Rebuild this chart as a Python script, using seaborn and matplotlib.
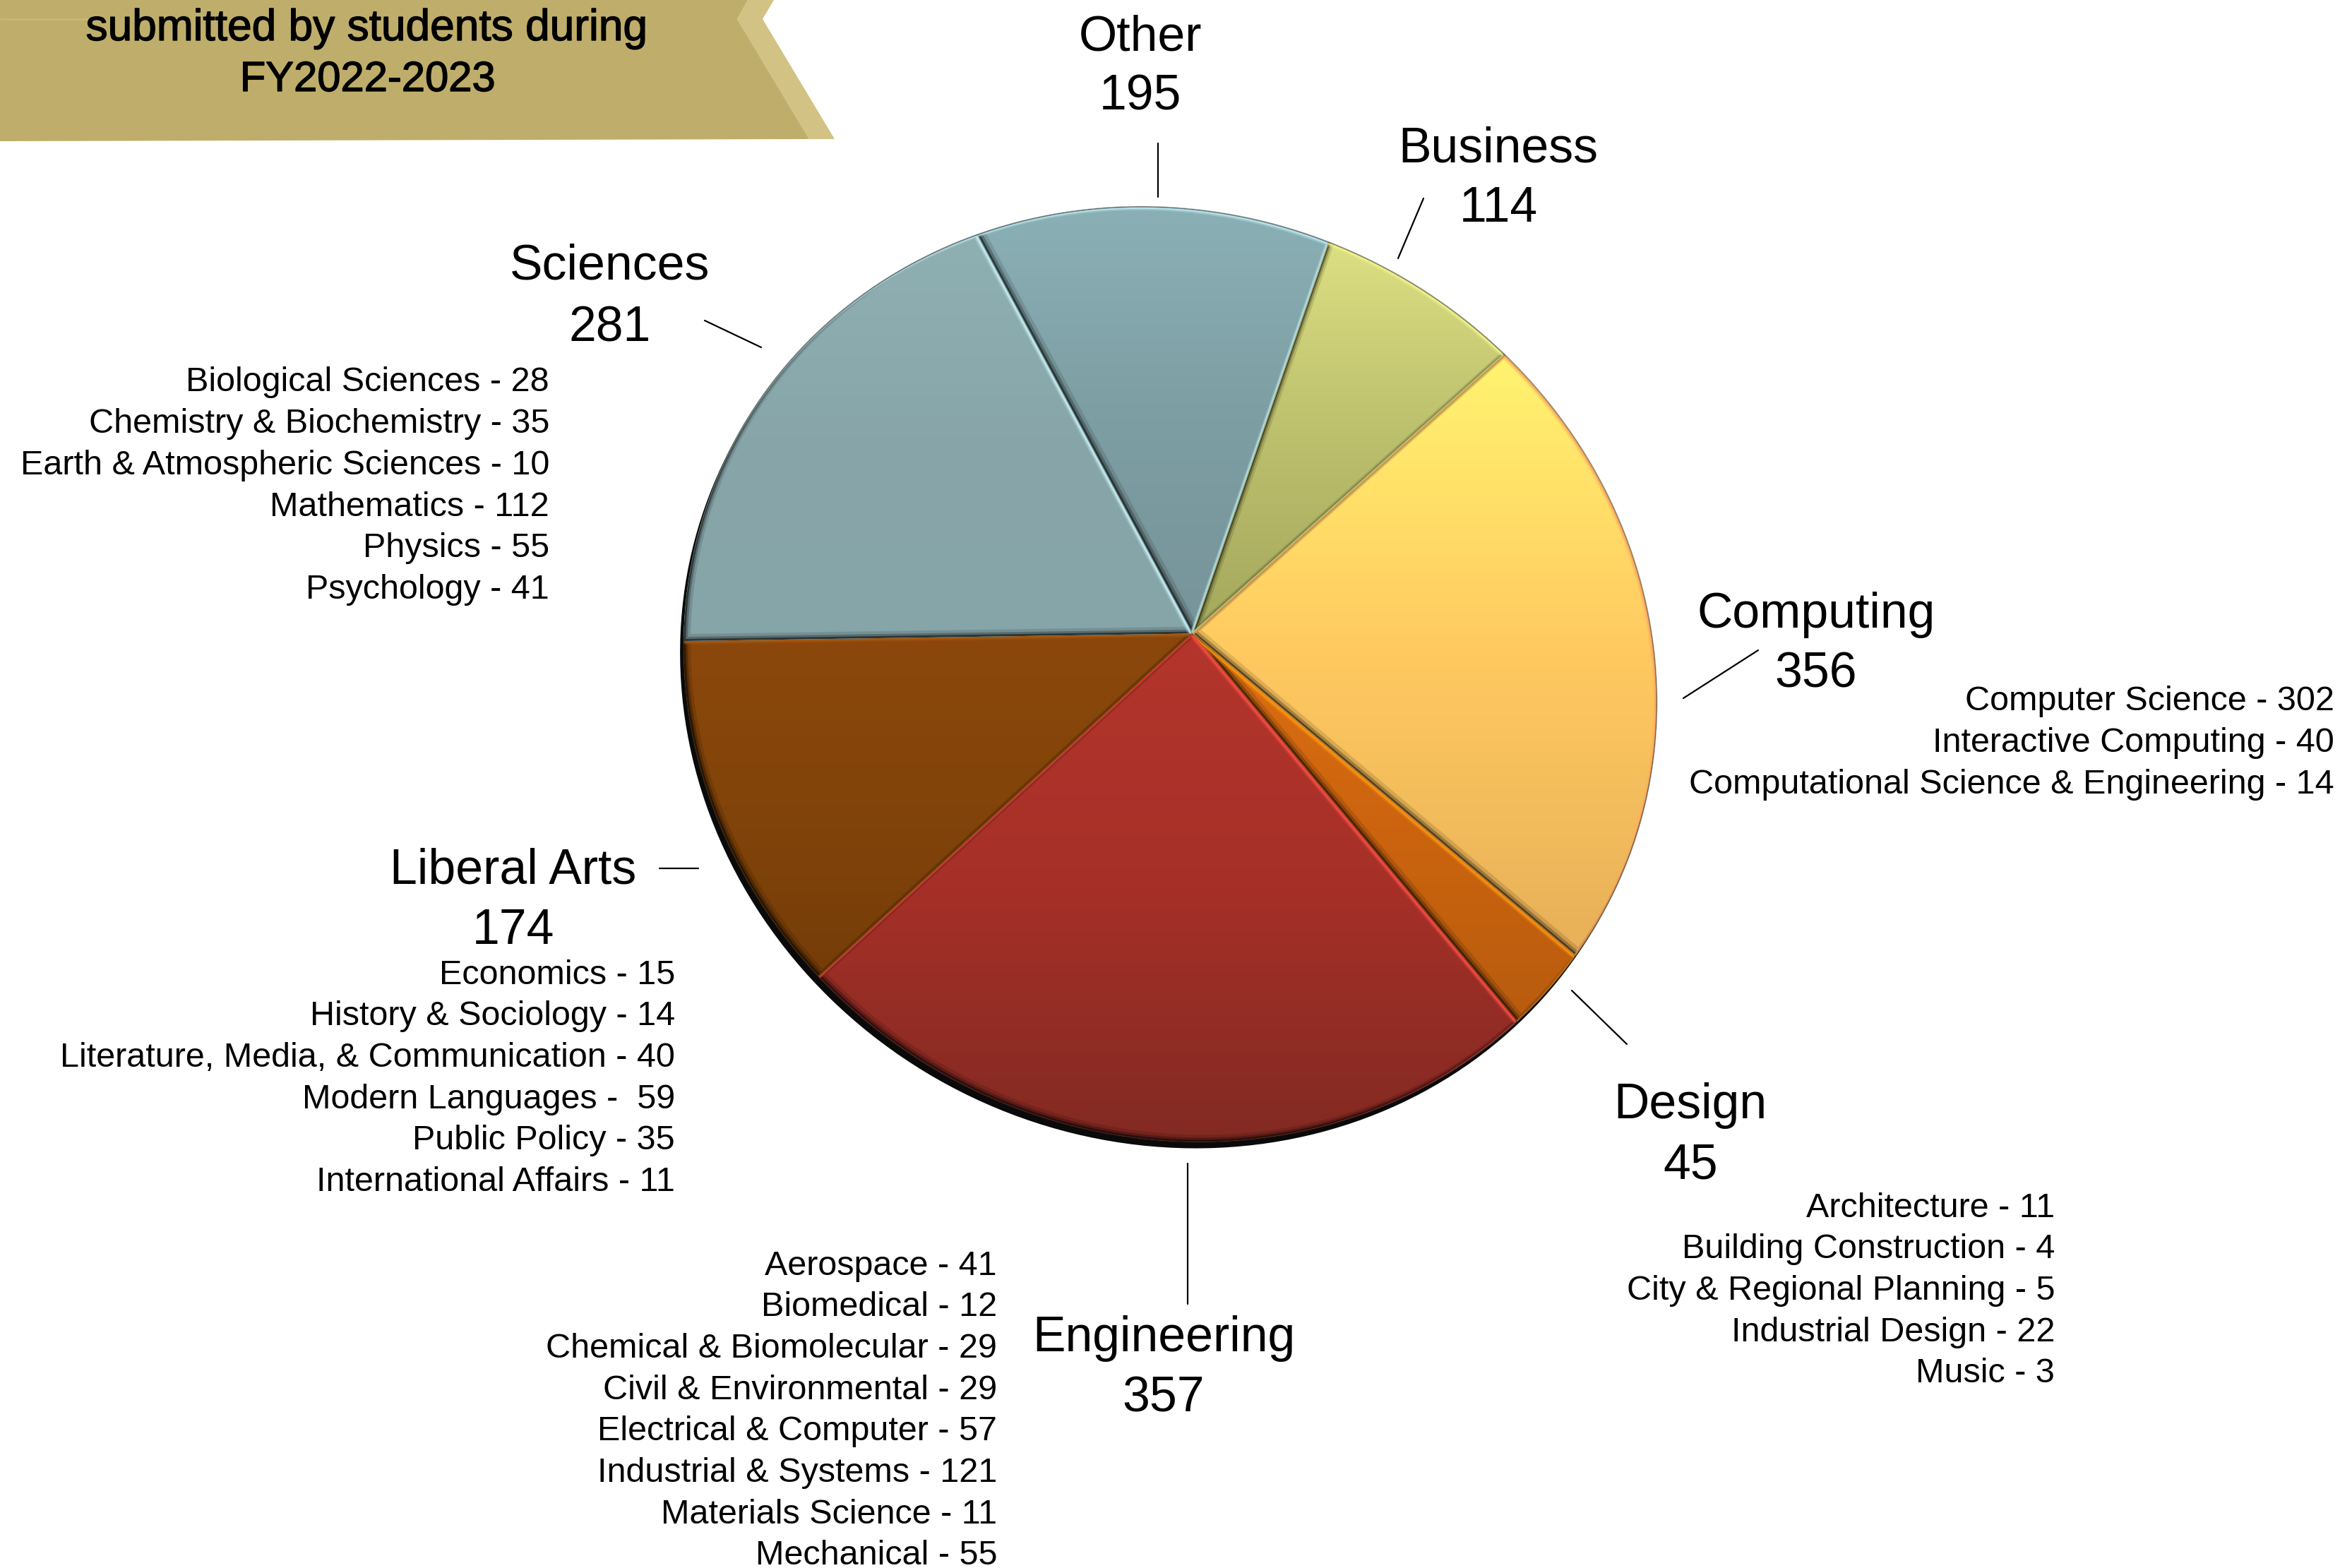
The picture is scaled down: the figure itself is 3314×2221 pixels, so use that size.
import numpy as np
import matplotlib
matplotlib.use("Agg")
import matplotlib.pyplot as plt
import matplotlib.patheffects as pe
import seaborn as sns
from matplotlib.colors import LinearSegmentedColormap
from matplotlib.patches import PathPatch, Polygon
from matplotlib.path import Path
from matplotlib.transforms import Affine2D

# ---------- data ----------
colleges = ["Computing", "Design", "Engineering", "Liberal Arts", "Sciences", "Other", "Business"]
totals = [356, 45, 357, 174, 281, 195, 114]

computing_list = ["Computer Science - 302", "Interactive Computing - 40", "Computational Science & Engineering - 14"]
design_list = ["Architecture - 11", "Building Construction - 4", "City & Regional Planning - 5", "Industrial Design - 22", "Music - 3"]
engineering_list = ["Aerospace - 41", "Biomedical - 12", "Chemical & Biomolecular - 29", "Civil & Environmental - 29",
                    "Electrical & Computer - 57", "Industrial & Systems - 121", "Materials Science - 11", "Mechanical - 55"]
liberal_list = ["Economics - 15", "History & Sociology - 14", "Literature, Media, & Communication - 40",
                "Modern Languages -  59", "Public Policy - 35", "International Affairs - 11"]
sciences_list = ["Biological Sciences - 28", "Chemistry & Biochemistry - 35", "Earth & Atmospheric Sciences - 10",
                 "Mathematics - 112", "Physics - 55", "Psychology - 41"]

# top -> bottom shading of each slice, and the colour of its lit edge
top_colors = ["#fff470", "#dc7012", "#b4352b", "#8c480c", "#8fb0b3", "#8ab0b6", "#dcdf82"]
mid_colors = ["#ffc960", "#cc640f", "#a63028", "#824409", "#88a6a9", "#7d9ea3", "#bcbf6c"]
low_colors = ["#e8b058", "#b85c0e", "#822a22", "#763d0a", "#86a5a9", "#779499", "#a4a85c"]
lit_colors = ["#ffa860", "#ff9a10", "#ff5048", "#a85a10", "#c8f2f6", "#bfeef2", "#f4f68e"]

# tilt of the pie: unit circle -> picture
H = np.array([[769.13, 112.00, 1688.91],
              [53.07, -577.75, 897.48],
              [0.05047, 0.08762, 1.0]])

# ---------- figure ----------
sns.set_theme(style="white")
plt.rcParams["font.family"] = ["Liberation Sans", "DejaVu Sans"]
plt.rcParams["text.color"] = "black"

fig = plt.figure(figsize=(33.14, 22.21), dpi=100, facecolor="white")
ax = fig.add_axes([0, 0, 1, 1])

wedges, _ = ax.pie(totals, colors=sns.color_palette(mid_colors), startangle=42, counterclock=False)


def warp(pts):
    p = np.c_[pts, np.ones(len(pts))] @ H.T
    return p[:, :2] / p[:, 2:]


def flat(path):
    big = Affine2D().scale(2000).transform_path(path)
    return big.to_polygons(closed_only=True)[0] / 2000


rim = warp(flat(Path.unit_circle()))
ax.add_patch(Polygon(rim + [-5, 9], fc="#0a0a0a", ec="none", zorder=1))

for i, w in enumerate(wedges):
    outline = warp(flat(w.get_patch_transform().transform_path(w.get_path())))
    w.remove()
    shape = PathPatch(Path(outline, closed=True), fc=mid_colors[i], ec="none", zorder=2)
    ax.add_patch(shape)
    x0, y0 = outline.min(axis=0)
    x1, y1 = outline.max(axis=0)
    cmap = LinearSegmentedColormap.from_list("c", [top_colors[i], mid_colors[i], low_colors[i]])
    ax.imshow(np.linspace(0, 1, 256)[:, None], extent=(x0, x1, y1, y0), cmap=cmap, aspect="auto",
              zorder=3, clip_path=shape)
    # bevel: dark on the lower left edges, light on the upper right ones
    for lw, a in [(10, 0.12), (6, 0.25), (3, 0.5)]:
        s = lw / 2
        dark = PathPatch(Path(outline, closed=True), fc="none", ec="black", lw=lw * 0.72, alpha=a, zorder=4,
                         transform=Affine2D().translate(s, -s) + ax.transData)
        ax.add_patch(dark)
        dark.set_clip_path(shape)
    for lw, a in [(5, 0.3), (3, 0.75)]:
        s = lw / 2
        light = PathPatch(Path(outline, closed=True), fc="none", ec=lit_colors[i], lw=lw * 0.72, alpha=a, zorder=4,
                          transform=Affine2D().translate(-s, s) + ax.transData)
        ax.add_patch(light)
        light.set_clip_path(shape)

# thin dark rim round the whole pie
ax.add_patch(Polygon(rim, fc="none", ec="#222222", lw=1.4, alpha=0.45, zorder=5))

# ---------- banner ----------
ax.add_patch(Polygon([(1059, 0), (1096, 0), (1080, 27), (1182, 197), (1146, 197), (1044, 27)], fc="#d2c283", ec="none"))
ax.add_patch(Polygon([(0, 0), (1059, 0), (1044, 27), (1146, 197), (0, 200)], fc="#bfae6b", ec="none"))
ax.plot([0, 130], [27, 27], color="#cdbf85", lw=1)
stroke = [pe.withStroke(linewidth=1.0, foreground="black")]
ax.text(520, 57, "submitted by students during", fontsize=44.8, ha="center", va="baseline", path_effects=stroke)
ax.text(521, 129, "FY2022-2023", fontsize=43, ha="center", va="baseline", path_effects=stroke)

# ---------- leader lines ----------
leaders = [((1640, 203), (1640, 279)), ((2016, 281), (1980, 366)), ((998, 454), (1078, 492)),
           ((2490, 921), (2384, 989)), ((934, 1230), (989, 1230)), ((2226, 1403), (2304, 1479)),
           ((1682, 1648), (1682, 1847))]
for p, q in leaders:
    ax.plot([p[0], q[0]], [p[1], q[1]], color="black", lw=1.6, zorder=6)

# ---------- labels ----------
big_pos = {"Computing": (2572, 871, 956), "Design": (2394, 1566, 1651), "Engineering": (1648, 1896, 1981),
           "Liberal Arts": (727, 1234, 1319), "Sciences": (864, 378, 465), "Other": (1615, 53, 138),
           "Business": (2122, 211, 296)}
for name, val in zip(colleges, totals):
    x, y1_, y2_ = big_pos[name]
    ax.text(x, y1_, name, fontsize=50.2, ha="center", va="center")
    ax.text(x, y2_, str(val), fontsize=50.2, ha="center", va="center")

for items, right, top in [(computing_list, 3306, 994), (design_list, 2910, 1711), (engineering_list, 1412, 1793),
                          (liberal_list, 956, 1381), (sciences_list, 778, 542)]:
    for k, s in enumerate(items):
        ax.text(right, top + k * 58.7, s, fontsize=34.9, ha="right", va="center")

ax.set_xlim(0, 3314)
ax.set_ylim(2221, 0)
ax.set_aspect("auto")
ax.axis("off")
fig.savefig("out.png", dpi=100, facecolor="white")
